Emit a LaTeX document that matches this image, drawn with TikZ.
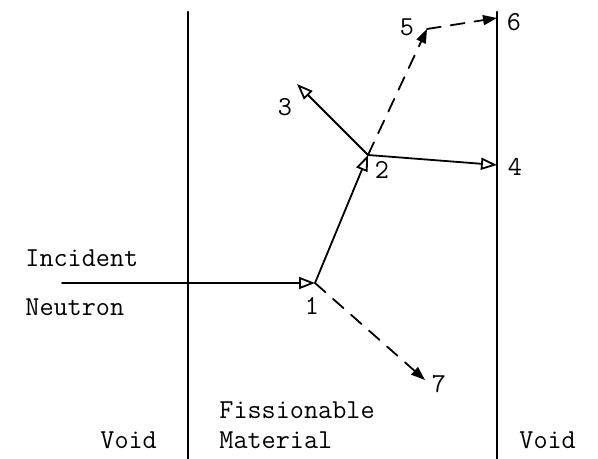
\documentclass[tikz,border=0pt]{standalone}
\usetikzlibrary{arrows.meta}

\tikzset{
  wall/.style={line width=1.1pt},
  path/.style={line width=0.9pt,-{Triangle[open,length=8pt,width=6pt]}},
  lost/.style={line width=0.9pt,dash pattern=on 7pt off 5pt,-{Triangle[length=7pt,width=5pt]}},
  lbl/.style={inner sep=0pt},
}

\begin{document}
\begin{tikzpicture}[x=0.5pt,y=-0.5pt,line cap=round,line join=round,
  font=\ttfamily\fontsize{13.7}{16}\selectfont]
  \useasboundingbox (0,0) rectangle (598,459);
  % material boundaries
  \draw[wall] (188,12) -- (188,459);
  \draw[wall] (497,12) -- (497,459);
  % collision sites
  \coordinate (src) at (62,283);
  \coordinate (p1) at (315,283);
  \coordinate (p2) at (368,155);
  \coordinate (p3) at (297,84);
  \coordinate (p4) at (497,165);
  \coordinate (p5) at (427,29);
  \coordinate (p6) at (497,18);
  \coordinate (p7) at (425,380);
  \draw[path] (src) -- (p1);
  \draw[path] (p1) -- (p2);
  \draw[path] (p2) -- (p3);
  \draw[path] (p2) -- (p4);
  \draw[lost] (p2) -- (p5);
  \draw[lost] (p5) -- (p6);
  \draw[lost] (p1) -- (p7);
  % numbers
  \node[lbl] (n1) at (312,306) {1};
  \node[lbl] (n2) at (382,170) {2};
  \node[lbl] (n3) at (285,107) {3};
  \node[lbl] (n4) at (515,167) {4};
  \node[lbl] (n5) at (407,27) {5};
  \node[lbl] (n6) at (514,22) {6};
  \node[lbl] (n7) at (439,384) {7};
  % region and beam labels
  \node[lbl,anchor=west] (inc) at (25,258) {Incident};
  \node[lbl,anchor=west] (neu) at (25,307) {Neutron};
  \node[lbl,anchor=west] (voidl) at (100,440) {Void};
  \node[lbl,anchor=west] (fis) at (219,410) {Fissionable};
  \node[lbl,anchor=west] (mat) at (219,440) {Material};
  \node[lbl,anchor=west] (voidr) at (519,440) {Void};
\end{tikzpicture}
\end{document}
